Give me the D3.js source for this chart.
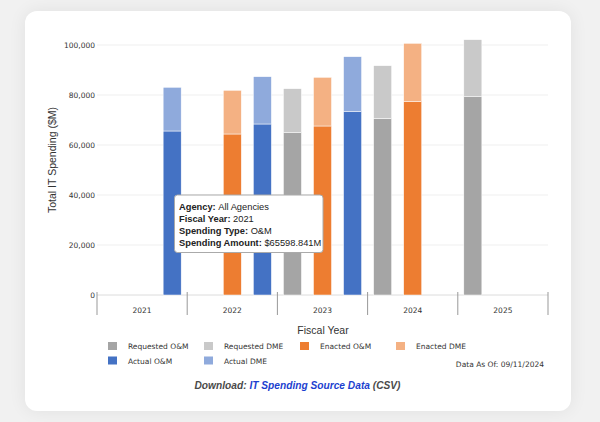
<!DOCTYPE html>
<html>
<head>
<meta charset="utf-8">
<script src="https://cdn.jsdelivr.net/npm/d3@7"></script>
<style>
  html, body { margin: 0; padding: 0; }
  body { width: 600px; height: 422px; background: #f1f1f1; position: relative; overflow: hidden; }
  #card { position: absolute; left: 25px; top: 11px; width: 546px; height: 400px; background: #fff;
          border-radius: 12px; box-shadow: 0 0 18px rgba(0,0,0,0.07); }
  #chart { position: absolute; left: 0; top: 0; }
</style>
</head>
<body>
<div id="card"></div>
<div id="chart"></div>
<script>
// fiscal years and budget stages
var years = ["2021", "2022", "2023", "2024", "2025"];
var stages = ["Requested", "Enacted", "Actual"];

// O&M spending by stage ($M), null = no bar
var requestedOM = [null, null, 64920, 70680, 79320];
var enactedOM   = [null, 64400, 67600, 77320, null];
var actualOM    = [65598.841, 68400, 73320, null, null];

// DME spending by stage ($M)
var requestedDME = [null, null, 17600, 21040, 22800];
var enactedDME   = [null, 17480, 19480, 23360, null];
var actualDME    = [17480, 18920, 22000, null, null];

var yTicks = [0, 20000, 40000, 60000, 80000, 100000];

var legendItems = [
  ["Requested O&M", "#a5a5a5"], ["Requested DME", "#c9c9c9"], ["Enacted O&M", "#ed7d31"], ["Enacted DME", "#f4b183"],
  ["Actual O&M", "#4472c4"], ["Actual DME", "#8faadc"]
];

var colors = {
  Requested: ["#a5a5a5", "#c9c9c9"],
  Enacted: ["#ed7d31", "#f4b183"],
  Actual: ["#4472c4", "#8faadc"]
};

var omByStage = { Requested: requestedOM, Enacted: enactedOM, Actual: actualOM };
var dmeByStage = { Requested: requestedDME, Enacted: enactedDME, Actual: actualDME };

var margin = { top: 45, left: 97, right: 52, bottom: 127 },
  width = 600 - margin.left - margin.right,
  height = 422 - margin.top - margin.bottom;

var svg = d3.select("#chart").append("svg")
  .attr("width", 600)
  .attr("height", 422);

var g = svg.append("g")
  .attr("transform", "translate(" + margin.left + "," + margin.top + ")");

var x0 = d3.scaleBand().domain(years).range([0, width]);
var x1 = d3.scaleBand().domain(stages).range([0, x0.bandwidth()])
  .paddingInner(0.4).paddingOuter(0.2);
var y = d3.scaleLinear().domain([0, 100000]).range([height, 0]);

// gridlines
g.selectAll(".grid")
  .data(yTicks)
  .enter().append("line")
  .attr("x1", 0)
  .attr("x2", width)
  .attr("y1", function(d) { return y(d); })
  .attr("y2", function(d) { return y(d); })
  .attr("stroke", function(d) { return d == 0 ? "#dcdcdc" : "#efefef"; })
  .attr("stroke-width", 1);

// y axis labels
var yAxis = g.append("g")
  .call(d3.axisLeft(y).tickValues(yTicks).tickSize(0).tickPadding(2).tickFormat(d3.format(",")));
yAxis.select(".domain").remove();
yAxis.selectAll("text")
  .attr("font-family", "DejaVu Sans, Verdana, sans-serif")
  .attr("font-size", "7.5px")
  .attr("fill", "#333");

// bars
var segs = [];
years.forEach(function(yr, i) {
  stages.forEach(function(st) {
    var om = omByStage[st][i], dme = dmeByStage[st][i];
    if (om == null) return;
    segs.push({ year: yr, stage: st, y0: 0, y1: om, color: colors[st][0] });
    segs.push({ year: yr, stage: st, y0: om, y1: om + dme, color: colors[st][1] });
  });
});

g.selectAll("rect.bar")
  .data(segs)
  .enter().append("rect")
  .attr("class", "bar")
  .attr("x", function(d) { return x0(d.year) + x1(d.stage); })
  .attr("width", x1.bandwidth())
  .attr("y", function(d) { return y(d.y1); })
  .attr("height", function(d) { return y(d.y0) - y(d.y1); })
  .attr("fill", function(d) { return d.color; })
  .attr("stroke", "#fff")
  .attr("stroke-width", 0.5);

// x axis: band boundaries + labels
var xb = g.append("g").attr("transform", "translate(0," + height + ")");
xb.selectAll("line.sep")
  .data(years.concat(["end"]))
  .enter().append("line")
  .attr("x1", function(d, i) { return i * x0.step(); })
  .attr("x2", function(d, i) { return i * x0.step(); })
  .attr("y1", -3)
  .attr("y2", 20)
  .attr("stroke", "#999")
  .attr("stroke-width", 1);

xb.selectAll("text")
  .data(years)
  .enter().append("text")
  .attr("x", function(d) { return x0(d) + x0.bandwidth() / 2; })
  .attr("y", 18)
  .attr("text-anchor", "middle")
  .attr("font-family", "DejaVu Sans, Verdana, sans-serif")
  .attr("font-size", "7.5px")
  .attr("fill", "#333")
  .text(function(d) { return d; });

// axis titles
svg.append("text")
  .attr("transform", "translate(56,160) rotate(-90)")
  .attr("text-anchor", "middle")
  .attr("font-family", "Liberation Sans, Arial, sans-serif")
  .attr("font-size", "10.5px")
  .attr("fill", "#333")
  .text("Total IT Spending ($M)");

svg.append("text")
  .attr("x", 323)
  .attr("y", 334)
  .attr("text-anchor", "middle")
  .attr("font-family", "Liberation Sans, Arial, sans-serif")
  .attr("font-size", "10.5px")
  .attr("fill", "#333")
  .text("Fiscal Year");

// legend
var legend = svg.append("g");
var li = legend.selectAll("g")
  .data(legendItems)
  .enter().append("g")
  .attr("transform", function(d, i) {
    return "translate(" + (108 + (i % 4) * 96) + "," + (342 + Math.floor(i / 4) * 14.5) + ")";
  });
li.append("rect")
  .attr("width", 9)
  .attr("height", 8)
  .attr("fill", function(d) { return d[1]; });
li.append("text")
  .attr("x", 20)
  .attr("y", 7)
  .attr("font-family", "DejaVu Sans, Verdana, sans-serif")
  .attr("font-size", "7.5px")
  .attr("fill", "#333")
  .text(function(d) { return d[0]; });

svg.append("text")
  .attr("x", 544)
  .attr("y", 367)
  .attr("text-anchor", "end")
  .attr("font-family", "DejaVu Sans, Verdana, sans-serif")
  .attr("font-size", "7.5px")
  .attr("fill", "#333")
  .text("Data As Of: 09/11/2024");

// download line
var dl = svg.append("text")
  .attr("x", 297.5)
  .attr("y", 388.5)
  .attr("text-anchor", "middle")
  .attr("font-family", "Liberation Sans, Arial, sans-serif")
  .attr("font-size", "10.2px")
  .attr("font-weight", "bold")
  .attr("font-style", "italic");
dl.append("tspan").attr("fill", "#4a4a4a").text("Download: ");
dl.append("tspan").attr("fill", "#1c3fcf").text("IT Spending Source Data");
dl.append("tspan").attr("fill", "#4a4a4a").text(" (CSV)");

// tooltip for 2021 Actual O&M
var tipLines = [
  ["Agency: ", "All Agencies"],
  ["Fiscal Year: ", years[0]],
  ["Spending Type: ", "O&M"],
  ["Spending Amount: ", "$" + actualOM[0] + "M"]
];
var tip = svg.append("g").attr("transform", "translate(174.5,195)");
tip.append("rect")
  .attr("width", 148.5)
  .attr("height", 57.5)
  .attr("rx", 3)
  .attr("fill", "#fff")
  .attr("stroke", "#aaa")
  .attr("stroke-width", 1);
var tt = tip.selectAll("text")
  .data(tipLines)
  .enter().append("text")
  .attr("x", 4.5)
  .attr("y", function(d, i) { return 14.5 + i * 12.3; })
  .attr("font-family", "Liberation Sans, Arial, sans-serif")
  .attr("font-size", "9.3px")
  .attr("fill", "#222");
tt.append("tspan").attr("font-weight", "bold").text(function(d) { return d[0]; });
tt.append("tspan").text(function(d) { return d[1]; });
</script>
</body>
</html>
